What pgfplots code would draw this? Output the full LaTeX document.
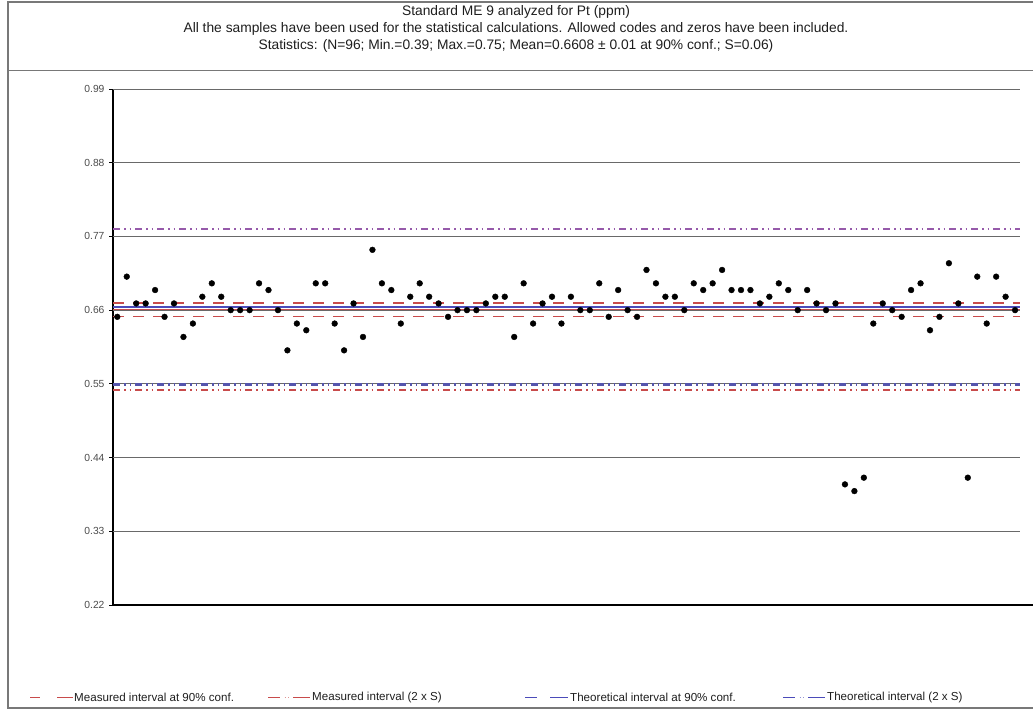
\documentclass[border=0pt]{standalone}
\usepackage{fontspec}
\setmainfont{Liberation Sans}
\usepackage{pgfplots}
\pgfplotsset{compat=1.18}
\definecolor{gridgray}{RGB}{105,105,105}
\definecolor{mred}{RGB}{200,75,75}
\definecolor{tblue}{RGB}{75,75,185}
\definecolor{mpurp}{RGB}{150,90,170}
\definecolor{framegray}{RGB}{120,120,120}
\definecolor{txtgray}{RGB}{30,30,30}
\begin{document}
\begin{tikzpicture}[x=1pt,y=1pt]
\path[use as bounding box] (0,0) rectangle (1033,712);
\draw[framegray, line width=1.4pt] (8,4) rectangle (1045,710);
\draw[framegray, line width=0.9pt] (8,642) -- (1045,642);
\node[font=\fontsize{13.8}{15}\selectfont, txtgray] at (516,700) {Standard ME 9 analyzed for Pt (ppm)};
\node[font=\fontsize{13.8}{15}\selectfont, txtgray] at (516,683) {All the samples have been used for the statistical calculations. Allowed codes and zeros have been included.};
\node[font=\fontsize{13.8}{15}\selectfont, txtgray] at (516,666) {Statistics: (N=96; Min.=0.39; Max.=0.75; Mean=0.6608 ± 0.01 at 90\% conf.; S=0.06)};
\begin{axis}[
  at={(113pt,107pt)}, anchor=south west,
  scale only axis, width=920pt, height=516pt,
  xmin=0.545, xmax=97.9, ymin=0.22, ymax=0.99,
  axis x line*=bottom, axis y line*=left,
  axis line style={black, line width=2.6pt, -},
  xtick=\empty,
  ytick={0.22,0.33,0.44,0.55,0.66,0.77,0.88,0.99},
  /pgf/number format/.cd, fixed, fixed zerofill, precision=2, assume math mode=true,
  /pgfplots/.cd,
  y tick label style={font=\fontsize{10.3}{11}\selectfont, txtgray!80, xshift=-1pt},
  tick align=outside, major tick length=4pt,
  tick style={black, line width=0.8pt},
  clip=false,
]
% grid lines
\addplot[gridgray, line width=1pt] coordinates {(0.545,0.99) (96.52,0.99)};
\addplot[gridgray, line width=1pt] coordinates {(0.545,0.88) (96.52,0.88)};
\addplot[gridgray, line width=1pt] coordinates {(0.545,0.77) (96.52,0.77)};
\addplot[gridgray, line width=1pt] coordinates {(0.545,0.66) (96.52,0.66)};
\addplot[gridgray, line width=1pt] coordinates {(0.545,0.55) (96.52,0.55)};
\addplot[gridgray, line width=1pt] coordinates {(0.545,0.44) (96.52,0.44)};
\addplot[gridgray, line width=1pt] coordinates {(0.545,0.33) (96.52,0.33)};
% intervals
\addplot[tblue, line width=2pt] coordinates {(0.545,0.6643) (96.52,0.6643)};
\addplot[mred, line width=1.3pt] coordinates {(0.545,0.6608) (96.52,0.6608)};
\addplot[mred, line width=1.3pt, dash pattern=on 11pt off 9pt] coordinates {(0.545,0.6708) (96.52,0.6708)};
\addplot[mred, line width=1.3pt, dash pattern=on 11pt off 9pt] coordinates {(0.545,0.6508) (96.52,0.6508)};
\addplot[mpurp, line width=2.6pt, dash pattern=on 7pt off 4pt on 1.5pt off 4pt on 1.5pt off 4pt] coordinates {(0.545,0.7811) (96.52,0.7811)};
\addplot[tblue!80!gray, line width=2.6pt, dash pattern=on 7pt off 4pt on 1.5pt off 4pt on 1.5pt off 4pt] coordinates {(0.545,0.5490) (96.52,0.5490)};
\addplot[mred, line width=1.3pt, dash pattern=on 7pt off 4pt on 1.5pt off 4pt on 1.5pt off 4pt] coordinates {(0.545,0.5408) (96.52,0.5408)};
% data
\addplot[only marks, mark=*, mark size=2.9pt, black] coordinates {
(1,0.65) (2,0.71) (3,0.67) (4,0.67) (5,0.69) (6,0.65) (7,0.67) (8,0.62) (9,0.64) (10,0.68)
(11,0.70) (12,0.68) (13,0.66) (14,0.66) (15,0.66) (16,0.70) (17,0.69) (18,0.66) (19,0.60) (20,0.64)
(21,0.63) (22,0.70) (23,0.70) (24,0.64) (25,0.60) (26,0.67) (27,0.62) (28,0.75) (29,0.70) (30,0.69)
(31,0.64) (32,0.68) (33,0.70) (34,0.68) (35,0.67) (36,0.65) (37,0.66) (38,0.66) (39,0.66) (40,0.67)
(41,0.68) (42,0.68) (43,0.62) (44,0.70) (45,0.64) (46,0.67) (47,0.68) (48,0.64) (49,0.68) (50,0.66)
(51,0.66) (52,0.70) (53,0.65) (54,0.69) (55,0.66) (56,0.65) (57,0.72) (58,0.70) (59,0.68) (60,0.68)
(61,0.66) (62,0.70) (63,0.69) (64,0.70) (65,0.72) (66,0.69) (67,0.69) (68,0.69) (69,0.67) (70,0.68)
(71,0.70) (72,0.69) (73,0.66) (74,0.69) (75,0.67) (76,0.66) (77,0.67) (78,0.40) (79,0.39) (80,0.41)
(81,0.64) (82,0.67) (83,0.66) (84,0.65) (85,0.69) (86,0.70) (87,0.63) (88,0.65) (89,0.73) (90,0.67)
(91,0.41) (92,0.71) (93,0.64) (94,0.71) (95,0.68) (96,0.66)
};
\end{axis}
% legend
\begin{scope}[font=\fontsize{11.6}{13}\selectfont]
\draw[mred, line width=1pt] (30,15)--(40,15) (57,15)--(73,15);
\node[anchor=west, inner sep=0pt, txtgray] at (74,15) {Measured interval at 90\% conf.};
\draw[mred, line width=1pt] (268,15)--(280,15) (293,15)--(310,15);
\draw[mred!60, line width=0.8pt] (284.5,15)--(285.5,15) (288,15)--(289,15);
\node[anchor=west, inner sep=0pt, txtgray] at (312,15) {Measured interval (2 x S)};
\draw[tblue, line width=1pt] (525,15)--(537,15) (550,15)--(568,15);
\node[anchor=west, inner sep=0pt, txtgray] at (570,15) {Theoretical interval at 90\% conf.};
\draw[tblue, line width=1pt] (783,15)--(795,15) (808,15)--(825,15);
\draw[tblue!60, line width=0.8pt] (799.5,15)--(800.5,15) (803,15)--(804,15);
\node[anchor=west, inner sep=0pt, txtgray] at (827,15) {Theoretical interval (2 x S)};
\end{scope}
\end{tikzpicture}
\end{document}
